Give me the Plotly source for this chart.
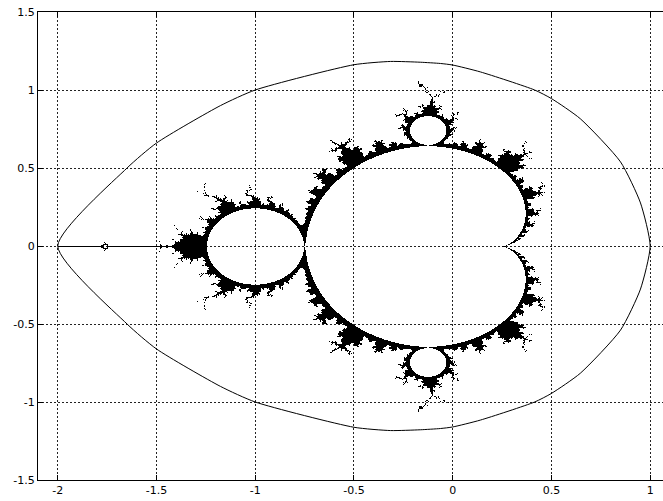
import numpy as np
import plotly.graph_objects as go

# ---- data ----
# outer egg-shaped curve, upper half (lower half mirrored)
curve_x = [-2.0, -1.649, -1.5, -1.176, -1.0, -0.5, -0.315, -0.164, -0.062, 0.0, 0.14, 0.415, 0.5, 0.646, 0.85, 0.951, 1.0]
curve_y = [0.0, 0.50, 0.66, 0.90, 1.0, 1.162, 1.183, 1.178, 1.17, 1.16, 1.116, 1.0, 0.945, 0.816, 0.539, 0.276, 0.0]

xtick_vals = [-2, -1.5, -1, -0.5, 0, 0.5, 1]
xtick_text = ['-2', '-1.5', '-1', '-0.5', '0', '0.5', '1']
ytick_vals = [-1.5, -1, -0.5, 0, 0.5, 1, 1.5]
ytick_text = ['-1.5', '-1', '-0.5', '0', '0.5', '1', '1.5']

x_range = [-2.1, 1.065]
y_range = [-1.5, 1.5]

# Mandelbrot sampling parameters
max_iter = 500
slow_escape = 22
eps = 1e-3
periods_checked = [1, 2, 3]

# ---- figure geometry ----
W, H = 663, 501
ml, mr, mt, mb = 38, 0, 12, 21
pw, ph = W - ml - mr, H - mt - mb
dx = (x_range[1] - x_range[0]) / pw
dy = (y_range[1] - y_range[0]) / ph

# ---- Mandelbrot boundary region ----
nx0 = int(np.floor((-2.06 - x_range[0]) / dx))
nx1 = int(np.ceil((0.56 - x_range[0]) / dx))
xs = x_range[0] + dx * (np.arange(nx0, nx1) + 0.5)
ny = int(np.ceil(1.26 / dy))
ys = dy * np.arange(-ny, ny + 1)
C = xs[None, :] + 1j * ys[:, None]
c = C.ravel()
black = np.zeros(c.size, dtype=np.uint8)
active = np.arange(c.size)
zc = np.zeros_like(c)
cc = c.copy()
for i in range(max_iter):
    zc = zc * zc + cc
    keep = (zc.real * zc.real + zc.imag * zc.imag) <= 4.0
    if not keep.all():
        if i + 1 >= slow_escape:
            black[active[~keep]] = 1
        active = active[keep]
        zc = zc[keep]
        cc = cc[keep]
z0 = zc.copy()
conv = np.zeros(z0.shape, bool)
zz = z0.copy()
for p in range(1, max(periods_checked) + 1):
    zz = zz * zz + cc
    if p in periods_checked:
        conv |= np.abs(zz - z0) < eps
black[active[~conv]] = 1
Zimg = black.reshape(C.shape)

fig = go.Figure()
fig.add_trace(go.Heatmap(
    z=Zimg.tolist(), x0=float(xs[0]), dx=dx, y0=float(ys[0]), dy=dy,
    colorscale=[[0, 'rgba(255,255,255,0)'], [1, 'rgb(0,0,0)']],
    zmin=0, zmax=1, showscale=False, hoverinfo='skip', zsmooth=False))

lx = curve_x + curve_x[::-1][1:]
ly = curve_y + [-v for v in curve_y[::-1][1:]]
fig.add_trace(go.Scatter(x=lx, y=ly, mode='lines',
                         line=dict(color='black', width=1, shape='spline', smoothing=0.6),
                         hoverinfo='skip', showlegend=False))

axis_common = dict(showgrid=True, gridcolor='#222', griddash='2px,2px', gridwidth=1,
                   zeroline=False, showline=True, linecolor='black', linewidth=1,
                   ticks='inside', ticklen=5, tickcolor='black',
                   tickfont=dict(family='DejaVu Sans', size=11, color='black'))
fig.update_xaxes(range=x_range, tickvals=xtick_vals, ticktext=xtick_text,
                 mirror='ticks', **axis_common)
fig.update_yaxes(range=y_range, tickvals=ytick_vals, ticktext=ytick_text,
                 mirror=False, **axis_common)
fig.update_layout(width=W, height=H, margin=dict(l=ml, r=mr, t=mt, b=mb, autoexpand=False),
                  paper_bgcolor='white', plot_bgcolor='white', showlegend=False)
fig.write_html('out.html', config={'displayModeBar': False},
               post_script="document.body.style.margin='0px';")
